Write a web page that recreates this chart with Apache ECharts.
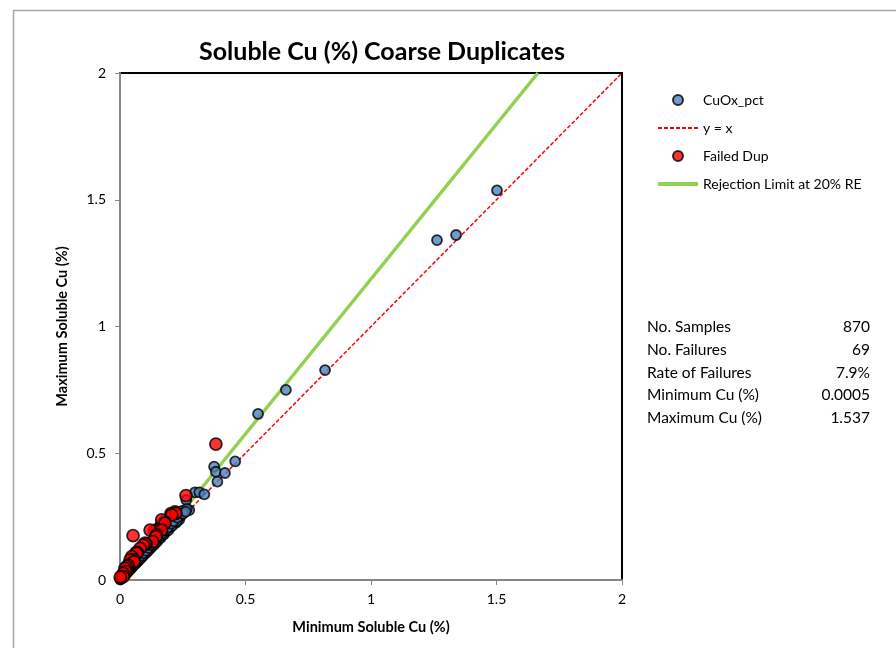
<!DOCTYPE html>
<html>
<head>
<meta charset="utf-8">
<script src="https://cdn.jsdelivr.net/npm/echarts@6/dist/echarts.min.js"></script>
<style>
html, body { margin: 0; padding: 0; background: #fff; }
#main { width: 896px; height: 648px; }
</style>
</head>
<body>
<div id="main"></div>
<script>
// [minimum, maximum] soluble Cu (%) pairs
var cuOx = [
	[1.502, 1.537], [1.339, 1.361], [1.263, 1.341], [0.817, 0.828], [0.661, 0.750],
	[0.550, 0.655], [0.459, 0.468], [0.375, 0.447], [0.382, 0.427], [0.418, 0.422],
	[0.388, 0.388], [0.299, 0.346], [0.316, 0.346], [0.336, 0.338], [0.264, 0.316],
	[0.276, 0.276], [0.248, 0.273], [0.266, 0.280], [0.239, 0.250], [0.223, 0.226],
	[0.236, 0.238], [0.177, 0.184],
	[0.001, 0.002], [0.003, 0.004], [0.004, 0.006], [0.006, 0.007], [0.008, 0.010],
	[0.010, 0.011], [0.012, 0.014], [0.014, 0.015], [0.016, 0.019], [0.018, 0.020],
	[0.021, 0.023], [0.023, 0.026], [0.026, 0.028], [0.029, 0.032], [0.031, 0.033],
	[0.034, 0.038], [0.037, 0.039], [0.040, 0.043], [0.043, 0.047], [0.046, 0.048],
	[0.049, 0.053], [0.052, 0.055], [0.056, 0.061], [0.059, 0.062], [0.062, 0.067],
	[0.066, 0.069], [0.069, 0.074], [0.073, 0.076], [0.077, 0.083], [0.081, 0.084],
	[0.085, 0.091], [0.089, 0.092], [0.093, 0.099], [0.097, 0.101], [0.102, 0.108],
	[0.106, 0.109], [0.111, 0.118], [0.116, 0.119], [0.121, 0.127], [0.125, 0.129],
	[0.131, 0.137], [0.136, 0.140], [0.142, 0.149], [0.148, 0.152], [0.154, 0.162],
	[0.161, 0.165], [0.168, 0.176], [0.174, 0.179], [0.183, 0.191], [0.192, 0.196],
	[0.201, 0.209], [0.208, 0.214], [0.218, 0.229], [0.226, 0.232], [0.243, 0.255],
	[0.255, 0.266],
	[0.007, 0.012], [0.015, 0.022], [0.024, 0.031], [0.033, 0.041], [0.041, 0.050],
	[0.050, 0.059], [0.058, 0.068], [0.067, 0.078], [0.075, 0.087], [0.084, 0.096],
	[0.094, 0.106], [0.103, 0.116], [0.113, 0.127], [0.123, 0.138], [0.133, 0.148],
	[0.144, 0.160], [0.156, 0.172], [0.167, 0.183], [0.179, 0.196], [0.190, 0.207],
	[0.204, 0.222], [0.213, 0.232], [0.228, 0.246], [0.251, 0.262], [0.262, 0.270]
];

var failedDup = [
	[0.382, 0.536], [0.263, 0.333], [0.219, 0.269], [0.203, 0.262], [0.223, 0.263],
	[0.206, 0.256], [0.177, 0.230], [0.166, 0.217], [0.166, 0.237], [0.179, 0.224],
	[0.149, 0.200], [0.137, 0.194], [0.120, 0.197], [0.166, 0.197], [0.146, 0.178],
	[0.143, 0.171], [0.130, 0.151], [0.052, 0.175], [0.104, 0.141], [0.100, 0.145],
	[0.093, 0.138], [0.080, 0.125], [0.069, 0.108], [0.064, 0.108], [0.066, 0.105],
	[0.047, 0.092], [0.056, 0.079], [0.040, 0.079], [0.056, 0.072], [0.033, 0.059],
	[0.027, 0.053], [0.020, 0.046], [0.023, 0.033], [0.013, 0.026], [0.013, 0.013],
	[0.001, 0.011]
];

var identityLine = [[0, 0], [2, 2]];
var rejectionLine = [[0.03, 0.002], [1.665, 2]];

var statLabels = ['No. Samples', 'No. Failures', 'Rate of Failures', 'Minimum Cu (%)', 'Maximum Cu (%)'];
var statValues = ['870', '69', '7.9%', '0.0005', '1.537'];

var font = 'Lato, "Open Sans", sans-serif';

// 右侧统计表
var graphics = [];
for (var i = 0; i < statLabels.length; i++) {
	graphics.push({
		type: 'text', left: 647, top: 319 + i * 22.8,
		style: { text: statLabels[i], font: '15.5px ' + font, fill: '#000' }
	});
	graphics.push({
		type: 'text', right: 26, top: 319 + i * 22.8,
		style: { text: statValues[i], font: '15.5px ' + font, fill: '#000', textAlign: 'right' }
	});
}
// 外框
graphics.push({
	type: 'rect', left: 11, top: 8,
	shape: { width: 900, height: 660 },
	style: { fill: 'none', stroke: '#a6a6a6', lineWidth: 1.5 },
	silent: true, z: -10
});

var chart = echarts.init(document.getElementById('main'));
chart.setOption({
	animation: false,
	backgroundColor: '#fff',
	title: {
		text: 'Soluble Cu (%) Coarse Duplicates',
		left: 377, top: 34, textAlign: 'center',
		textStyle: { fontFamily: font, fontWeight: 'bold', fontSize: 25, color: '#000' }
	},
	grid: {
		left: 120, right: 274, top: 73, bottom: 68,
		show: true, borderColor: '#000', borderWidth: 2, backgroundColor: '#fff'
	},
	legend: {
		orient: 'vertical', left: 651, top: 88,
		itemWidth: 40, itemHeight: 10, itemGap: 14,
		textStyle: { fontFamily: font, fontSize: 14, color: '#000' },
		data: [
			'CuOx_pct',
			{ name: 'y = x', itemStyle: { opacity: 0 }, lineStyle: { width: 2 } },
			'Failed Dup',
			{ name: 'Rejection Limit at 20% RE', itemStyle: { opacity: 0 }, lineStyle: { width: 4 } }
		]
	},
	xAxis: {
		type: 'value', min: 0, max: 2, interval: 0.5,
		name: 'Minimum Soluble Cu (%)', nameLocation: 'middle', nameGap: 40,
		nameTextStyle: { fontFamily: font, fontWeight: 'bold', fontSize: 14.5, color: '#000' },
		axisLine: { lineStyle: { color: '#868686', width: 2 } },
		axisTick: { show: true, length: 5, lineStyle: { color: '#868686' } },
		axisLabel: { fontFamily: font, fontSize: 14, color: '#000', margin: 12 },
		splitLine: { show: false }
	},
	yAxis: {
		type: 'value', min: 0, max: 2, interval: 0.5,
		name: 'Maximum Soluble Cu (%)', nameLocation: 'middle', nameGap: 50,
		nameTextStyle: { fontFamily: font, fontWeight: 'bold', fontSize: 14.5, color: '#000' },
		axisLine: { show: true, lineStyle: { color: '#868686', width: 2 } },
		axisTick: { show: true, length: 5, lineStyle: { color: '#868686' } },
		axisLabel: { fontFamily: font, fontSize: 14, color: '#000', margin: 14 },
		splitLine: { show: false }
	},
	graphic: graphics,
	series: [
		{
			name: 'CuOx_pct', type: 'scatter', data: cuOx,
			symbol: 'circle', symbolSize: 10,
			itemStyle: { color: '#4f81bd', borderColor: '#000', borderWidth: 1.8 },
			z: 3
		},
		{
			name: 'y = x', type: 'line', data: identityLine,
			symbol: 'none',
			itemStyle: { color: '#ff0000' },
			lineStyle: { color: '#ff0000', width: 1.5, type: [4, 2] },
			z: 2
		},
		{
			name: 'Failed Dup', type: 'scatter', data: failedDup,
			symbol: 'circle', symbolSize: 12,
			itemStyle: { color: '#ff0000', borderColor: '#000', borderWidth: 1.8 },
			z: 4
		},
		{
			name: 'Rejection Limit at 20% RE', type: 'line', data: rejectionLine,
			symbol: 'none',
			itemStyle: { color: '#92d050' },
			lineStyle: { color: '#92d050', width: 3.5 },
			z: 1
		}
	]
});
</script>
</body>
</html>
